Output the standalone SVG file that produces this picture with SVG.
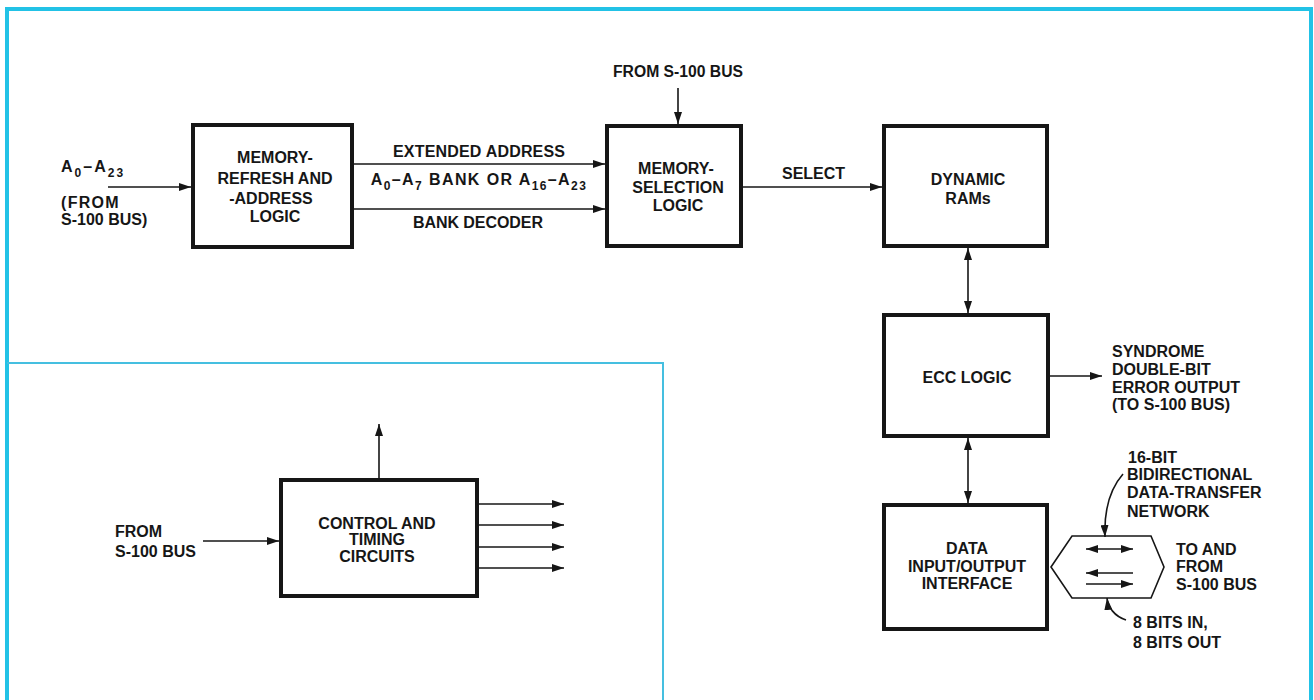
<svg xmlns="http://www.w3.org/2000/svg" width="1314" height="700" viewBox="0 0 1314 700">
<defs>
<style>
text{font-family:"Liberation Sans",Arial,sans-serif;font-weight:bold;font-size:16px;fill:#161616}
.c{text-anchor:middle}
.box{fill:#fff;stroke:#161616;stroke-width:4}
.ln{fill:none;stroke:#161616;stroke-width:1.6}
.frame{fill:none;stroke:#22c2e6;stroke-width:4}
.inner{fill:none;stroke:#45bfe0;stroke-width:2}
.sub{font-size:12px}
.sp{letter-spacing:1.3px}
</style>
<marker id="ah" viewBox="0 0 12 8" refX="12" refY="4" markerWidth="12" markerHeight="8" markerUnits="userSpaceOnUse" orient="auto-start-reverse">
<path d="M0,0 L12,4 L0,8 z" fill="#161616"/>
</marker>
<marker id="as" viewBox="0 0 12 8" refX="12" refY="4" markerWidth="12" markerHeight="8" markerUnits="userSpaceOnUse" orient="auto-start-reverse">
<path d="M0,0 L12,4 L0,8 z" fill="#161616"/>
</marker>
</defs>
<rect width="1314" height="700" fill="#fff"/>
<g id="frame">
<path class="frame" d="M7,702 L7,9 L1311,9 L1311,702"/>
<path class="inner" d="M7,363 L663,363 L663,702"/>
</g>
<g id="connectors">
<line class="ln" x1="108" y1="187" x2="191" y2="187" marker-end="url(#ah)"/>
<line class="ln" x1="354" y1="164" x2="605" y2="164" marker-end="url(#ah)"/>
<line class="ln" x1="354" y1="209" x2="605" y2="209" marker-end="url(#ah)"/>
<line class="ln" x1="678" y1="88" x2="678" y2="124" marker-end="url(#ah)"/>
<line class="ln" x1="743" y1="187" x2="882" y2="187" marker-end="url(#ah)"/>
<line class="ln" x1="968" y1="248" x2="968" y2="313" marker-start="url(#ah)" marker-end="url(#ah)"/>
<line class="ln" x1="1050" y1="376" x2="1102" y2="376" marker-end="url(#ah)"/>
<line class="ln" x1="968" y1="438" x2="968" y2="503" marker-start="url(#ah)" marker-end="url(#ah)"/>
<line class="ln" x1="203" y1="541" x2="279" y2="541" marker-end="url(#ah)"/>
<line class="ln" x1="379" y1="478" x2="379" y2="424" marker-end="url(#ah)"/>
<line class="ln" x1="479" y1="504" x2="564" y2="504" marker-end="url(#ah)"/>
<line class="ln" x1="479" y1="525" x2="564" y2="525" marker-end="url(#ah)"/>
<line class="ln" x1="479" y1="547" x2="564" y2="547" marker-end="url(#ah)"/>
<line class="ln" x1="479" y1="568" x2="564" y2="568" marker-end="url(#ah)"/>
<line class="ln" x1="1086" y1="549" x2="1133" y2="549" stroke-width="2.2" marker-start="url(#as)" marker-end="url(#as)"/>
<line class="ln" x1="1086" y1="573" x2="1133" y2="573" stroke-width="2.2" marker-start="url(#as)"/>
<line class="ln" x1="1086" y1="584" x2="1133" y2="584" stroke-width="2.2" marker-end="url(#as)"/>
<path class="ln" d="M1123,474 C1109,490 1104,512 1105,537" marker-end="url(#as)"/>
<path class="ln" d="M1126,620 C1114,616 1108,607 1107,598" marker-end="url(#as)"/>
</g>
<g id="labels">
<text x="61" y="172" style="letter-spacing:2px">A<tspan class="sub" dy="5">0</tspan><tspan dy="-5">–A</tspan><tspan class="sub" dy="5">23</tspan></text>
<text x="61" y="208" class="sp">(FROM</text>
<text x="61" y="225">S-100 BUS)</text>
<text class="c" x="678" y="77" textLength="130" lengthAdjust="spacingAndGlyphs">FROM S-100 BUS</text>
<text class="c" x="479" y="157" textLength="172">EXTENDED ADDRESS</text>
<text class="c" x="479" y="185" style="letter-spacing:1.4px">A<tspan class="sub" dy="5">0</tspan><tspan dy="-5">–A</tspan><tspan class="sub" dy="5">7</tspan><tspan dy="-5"> BANK OR A</tspan><tspan class="sub" dy="5">16</tspan><tspan dy="-5">–A</tspan><tspan class="sub" dy="5">23</tspan></text>
<text class="c" x="478" y="228" textLength="130">BANK DECODER</text>
<text x="782" y="179">SELECT</text>
<text x="1112" y="357">SYNDROME</text>
<text x="1112" y="375">DOUBLE-BIT</text>
<text x="1112" y="393">ERROR OUTPUT</text>
<text x="1112" y="410">(TO S-100 BUS)</text>
<text x="1128" y="463">16-BIT</text>
<text x="1127" y="480">BIDIRECTIONAL</text>
<text x="1127" y="498">DATA-TRANSFER</text>
<text x="1127" y="517">NETWORK</text>
<text x="1176" y="555">TO AND</text>
<text x="1176" y="572">FROM</text>
<text x="1176" y="590">S-100 BUS</text>
<text x="1133" y="628">8 BITS IN,</text>
<text x="1133" y="648">8 BITS OUT</text>
<text x="115" y="537">FROM</text>
<text x="115" y="557">S-100 BUS</text>
</g>
<g id="memory-refresh">
<rect class="box" x="193" y="125" width="159" height="122"/>
<text class="c" x="275" y="163">MEMORY-</text>
<text class="c" x="275" y="184">REFRESH AND</text>
<text class="c" x="271" y="204">-ADDRESS</text>
<text class="c" x="275" y="222">LOGIC</text>
</g>
<g id="memory-selection">
<rect class="box" x="607" y="126" width="134" height="120"/>
<text class="c" x="676" y="174">MEMORY-</text>
<text class="c" x="678" y="193">SELECTION</text>
<text class="c" x="678" y="211">LOGIC</text>
</g>
<g id="dynamic-rams">
<rect class="box" x="884" y="126" width="163" height="120"/>
<text class="c" x="968" y="185">DYNAMIC</text>
<text class="c" x="968" y="204">RAMs</text>
</g>
<g id="ecc-logic">
<rect class="box" x="884" y="315" width="164" height="121"/>
<text class="c" x="967" y="383">ECC LOGIC</text>
</g>
<g id="data-io">
<rect class="box" x="884" y="505" width="163" height="124"/>
<text class="c" x="967" y="554">DATA</text>
<text class="c" x="967" y="572">INPUT/OUTPUT</text>
<text class="c" x="967" y="589">INTERFACE</text>
</g>
<g id="transfer-network">
<polygon class="ln" points="1051,567 1072,536 1151,536 1164,567 1151,598 1072,598"/>
</g>
<g id="control-timing">
<rect class="box" x="281" y="480" width="196" height="116"/>
<text class="c" x="377" y="529">CONTROL AND</text>
<text class="c" x="377" y="545">TIMING</text>
<text class="c" x="377" y="562">CIRCUITS</text>
</g>
</svg>
